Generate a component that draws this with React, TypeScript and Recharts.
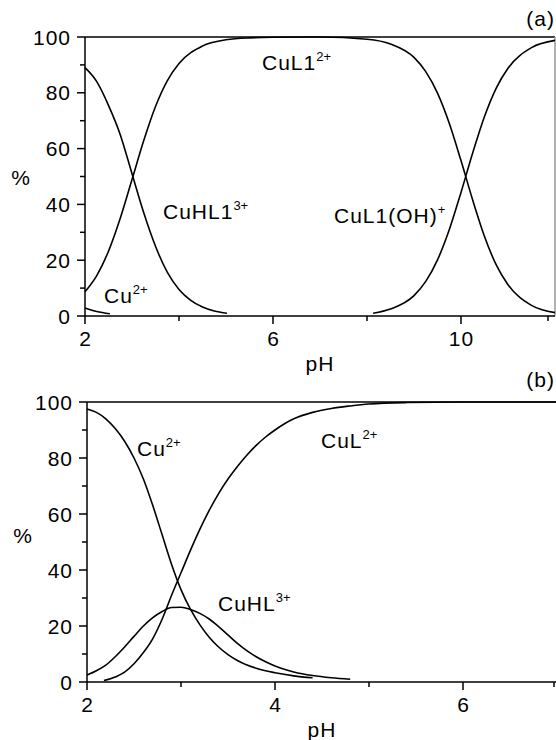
import React from "react";
import { LineChart, Line, XAxis, YAxis, ReferenceLine } from "recharts";

// (a) species distribution, pH 2-12
const aCuPH = [2.0, 2.25, 2.53];
const aCuPct = [2.9, 1.6, 0.8];
const aCuHL1PH = [2.0, 2.25, 2.5, 2.75, 3.0, 3.25, 3.5, 3.75, 4.0, 4.25, 4.5, 4.75, 5.02];
const aCuHL1Pct = [89, 84, 75.5, 65, 51, 37, 25, 15.7, 9.5, 5.6, 3.2, 1.8, 1.0];
const aCuL1PH = [2.0, 2.25, 2.5, 2.75, 3.0, 3.25, 3.5, 3.75, 4.0, 4.5, 5.0, 5.5, 6.0, 7.0, 8.0, 8.5, 9.0, 9.25, 9.5, 9.75, 10.0, 10.25, 10.5, 10.75, 11.0, 11.5, 12.0];
const aCuL1Pct = [8.7, 14.5, 23.2, 35, 48.9, 62.9, 75.1, 84.3, 90.5, 96.8, 99, 99.7, 99.9, 100, 99.2, 97.5, 92.7, 87.6, 79.9, 69.1, 55.7, 41.5, 28.5, 18.3, 11.2, 3.8, 1.2];
const aCuL1OHPH = [8.13, 8.5, 9.0, 9.25, 9.5, 9.75, 10.0, 10.25, 10.5, 10.75, 11.0, 11.5, 12.0];
const aCuL1OHPct = [1.0, 2.5, 7.3, 12.4, 20.1, 30.9, 44.3, 58.5, 71.5, 81.7, 88.8, 96.2, 98.8];

// (b) species distribution, pH 2-7
const bCuPH = [2.0, 2.1, 2.2, 2.3, 2.4, 2.5, 2.6, 2.7, 2.8, 2.9, 3.0, 3.1, 3.2, 3.3, 3.4, 3.5, 3.6, 3.8, 4.0, 4.2, 4.4];
const bCuPct = [97.5, 96.3, 94, 90.5, 86, 80, 72.5, 63, 52.5, 42, 33, 26, 20.5, 16, 12.5, 9.8, 7.7, 4.9, 3.3, 2.2, 1.5];
const bCuHLPH = [2.0, 2.1, 2.2, 2.3, 2.4, 2.5, 2.6, 2.7, 2.8, 2.9, 3.0, 3.1, 3.2, 3.3, 3.4, 3.5, 3.6, 3.7, 3.8, 3.9, 4.0, 4.2, 4.4, 4.6, 4.8];
const bCuHLPct = [2.5, 4, 6, 9, 12.5, 16.3, 20, 23, 25.2, 26.6, 26.7, 25.9, 24.5, 22.5, 19.8, 16.8, 13.8, 11.2, 9, 7.2, 5.7, 3.6, 2.3, 1.5, 1.0];
const bCuLPH = [2.18, 2.3, 2.4, 2.5, 2.6, 2.7, 2.8, 2.9, 3.0, 3.1, 3.2, 3.3, 3.4, 3.5, 3.6, 3.7, 3.8, 3.9, 4.0, 4.2, 4.4, 4.6, 4.8, 5.0, 5.4, 6.0, 7.0];
const bCuLPct = [0.5, 1.8, 3.5, 6.5, 10.5, 15.5, 22.5, 31, 39, 47, 54.5, 61.3, 67.3, 72.5, 77, 81, 84.5, 87.5, 90, 94, 96.3, 97.7, 98.6, 99.3, 99.8, 100, 100];

const yTicks = [0, 10, 20, 30, 40, 50, 60, 70, 80, 90, 100];
const aXTicks = [2, 4, 6, 8, 10, 12];
const bXTicks = [2, 3, 4, 5, 6, 7];

const zip = (xs: number[], ys: number[]) => xs.map((pH, i) => ({ pH, v: ys[i] }));

const FONT = "'Liberation Sans', Arial, sans-serif";
const FS = 21;
const LS = 1;

const YTick = (props: any) => {
  const { x, y, payload } = props;
  const ax = x + 8;
  const major = payload.value % 20 === 0;
  return (
    <g>
      <line x1={ax - (major ? 8 : 5)} x2={ax} y1={y} y2={y} stroke="#000" strokeWidth={1.5} />
      {major && (
        <text x={ax - 14} y={y + 7.5} textAnchor="end" fontSize={FS} letterSpacing={LS} fontFamily={FONT} fill="#000">
          {payload.value}
        </text>
      )}
    </g>
  );
};

const makeXTick = (labels: number[]) => (props: any) => {
  const { x, y, payload } = props;
  const ay = y - 8;
  const major = labels.includes(payload.value);
  return (
    <g>
      <line x1={x} x2={x} y1={ay} y2={ay + (major ? 8 : 5)} stroke="#000" strokeWidth={1.5} />
      {major && (
        <text x={x + 0.5} y={ay + 29.5} textAnchor="middle" fontSize={FS} letterSpacing={LS} fontFamily={FONT} fill="#000">
          {payload.value}
        </text>
      )}
    </g>
  );
};

const curve = (data: { pH: number; v: number }[], key: string) => (
  <Line
    key={key}
    data={data}
    dataKey="v"
    type="monotone"
    stroke="#000"
    strokeWidth={1.6}
    dot={false}
    isAnimationActive={false}
  />
);

const Lbl = ({ x, y, main, sup }: { x: number; y: number; main: string; sup?: string }) => (
  <text x={x} y={y} fontSize={FS} letterSpacing={LS} fontFamily={FONT} fill="#000">
    {main}
    {sup && (
      <tspan fontSize={13} letterSpacing={0} dy={-9}>
        {sup}
      </tspan>
    )}
  </text>
);

const Txt = ({ x, y, anchor, children }: { x: number; y: number; anchor: string; children: string }) => (
  <text x={x} y={y} textAnchor={anchor} fontSize={FS} letterSpacing={LS} fontFamily={FONT} fill="#000">
    {children}
  </text>
);

export default function App() {
  return (
    <div style={{ position: "relative", width: 556, height: 740, overflow: "hidden", background: "#fff" }}>
      <style>{"body{margin:0}"}</style>
      <div style={{ position: "absolute", left: 0, top: 0 }}>
        <LineChart width={556} height={370} margin={{ top: 37, right: 1, bottom: 24, left: 0 }}>
          <XAxis
            type="number"
            dataKey="pH"
            domain={[2, 12]}
            ticks={aXTicks}
            allowDuplicatedCategory={false}
            height={30}
            tickSize={8}
            tickMargin={0}
            tickLine={false}
            tick={makeXTick([2, 6, 10])}
            axisLine={{ stroke: "#000", strokeWidth: 1.5 }}
          />
          <YAxis
            type="number"
            domain={[0, 100]}
            ticks={yTicks}
            width={85}
            tickSize={8}
            tickMargin={0}
            tickLine={false}
            tick={<YTick />}
            interval={0}
            axisLine={{ stroke: "#000", strokeWidth: 1.5 }}
          />
          <ReferenceLine y={100} stroke="#000" strokeWidth={1.5} />
          <ReferenceLine x={12} stroke="#999" strokeWidth={1.5} />
          {curve(zip(aCuPH, aCuPct), "cu")}
          {curve(zip(aCuHL1PH, aCuHL1Pct), "cuhl1")}
          {curve(zip(aCuL1PH, aCuL1Pct), "cul1")}
          {curve(zip(aCuL1OHPH, aCuL1OHPct), "cul1oh")}
        </LineChart>
      </div>
      <div style={{ position: "absolute", left: 0, top: 370 }}>
        <LineChart width={558} height={370} margin={{ top: 32, right: 1, bottom: 28, left: 0 }}>
          <XAxis
            type="number"
            dataKey="pH"
            domain={[2, 7]}
            ticks={bXTicks}
            allowDuplicatedCategory={false}
            height={30}
            tickSize={8}
            tickMargin={0}
            tickLine={false}
            tick={makeXTick([2, 4, 6])}
            axisLine={{ stroke: "#000", strokeWidth: 1.5 }}
          />
          <YAxis
            type="number"
            domain={[0, 100]}
            ticks={yTicks}
            width={87}
            tickSize={8}
            tickMargin={0}
            tickLine={false}
            tick={<YTick />}
            interval={0}
            axisLine={{ stroke: "#000", strokeWidth: 1.5 }}
          />
          <ReferenceLine y={100} stroke="#000" strokeWidth={1.5} />
          {curve(zip(bCuPH, bCuPct), "cu")}
          {curve(zip(bCuHLPH, bCuHLPct), "cuhl")}
          {curve(zip(bCuLPH, bCuLPct), "cul")}
        </LineChart>
      </div>
      <svg
        width={556}
        height={740}
        style={{ position: "absolute", left: 0, top: 0, pointerEvents: "none" }}
      >
        <Txt x={555} y={26} anchor="end">(a)</Txt>
        <Txt x={21} y={185} anchor="middle">%</Txt>
        <Txt x={320} y={371} anchor="middle">pH</Txt>
        <Lbl x={262} y={70} main="CuL1" sup="2+" />
        <Lbl x={163} y={219} main="CuHL1" sup="3+" />
        <Lbl x={104} y={303} main="Cu" sup="2+" />
        <Lbl x={334} y={223} main="CuL1(OH)" sup="+" />

        <Txt x={555} y={387} anchor="end">(b)</Txt>
        <Txt x={23} y={543} anchor="middle">%</Txt>
        <Txt x={322} y={737} anchor="middle">pH</Txt>
        <Lbl x={137} y={456} main="Cu" sup="2+" />
        <Lbl x={218} y={611} main="CuHL" sup="3+" />
        <Lbl x={321} y={448} main="CuL" sup="2+" />
      </svg>
    </div>
  );
}
